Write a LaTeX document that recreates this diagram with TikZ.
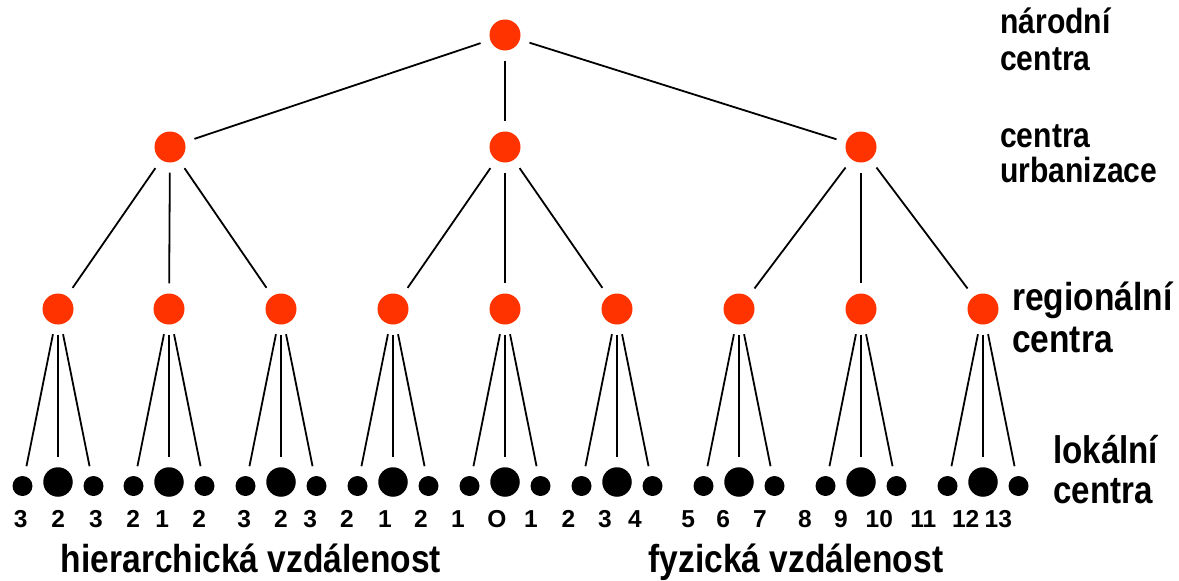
\documentclass[tikz,border=0pt]{standalone}
\usepackage{fontspec}
\newfontfamily\labfont{Liberation Sans}[FakeStretch=0.86]
\newfontfamily\numfont{Liberation Sans}
\usepackage{tikz}
\usetikzlibrary{calc}
\usetikzlibrary{positioning}
\definecolor{centrered}{RGB}{255,51,0}
\tikzstyle{city} = [circle, fill=centrered, inner sep=0pt, minimum size=31pt]
\tikzstyle{small} = [circle, fill=black, inner sep=0pt, minimum size=20pt]
\tikzstyle{big} = [circle, fill=black, inner sep=0pt, minimum size=29.5pt]
\tikzstyle{link} = [draw, line width=1.8pt, shorten <=10pt, shorten >=10pt]
\tikzstyle{num} = [font=\numfont\bfseries\fontsize{24.5}{24.5}\selectfont, inner sep=0pt, anchor=base]
\tikzstyle{level} = [align=left, inner sep=0pt, anchor=base west]
\tikzstyle{axis} = [font=\labfont\bfseries\fontsize{39}{42}\selectfont, inner sep=0pt, anchor=base]

\begin{document}
\begin{tikzpicture}[x=1pt, y=-1pt]
    \useasboundingbox (0,0) rectangle (1179,581);
    % We start by placing the national and urban centres
    \node [city] (nat) at (505,35) {};
    \node [city] (urb1) at (170,147) {};
    \node [city] (urb2) at (505,147) {};
    \node [city] (urb3) at (861,147) {};
    \foreach \u in {1,2,3}
        \draw [link] (nat) -- (urb\u);

    % regional centres with their local centres
    \foreach \x/\n/\u in {58/1/1, 169/2/1, 281/3/1, 393/4/2, 505/5/2, 617/6/2, 739/7/3, 861/8/3, 983/9/3} {
        \node [city] (reg\n) at (\x,309) {};
        \draw [link] (urb\u) -- (reg\n);
        \node [small] (left\n) at ($(reg\n)+(-35.5,177)$) {};
        \node [big] (mid\n) at ($(reg\n)+(0,173)$) {};
        \node [small] (right\n) at ($(reg\n)+(35.5,177)$) {};
        \draw [link] (reg\n) -- (left\n);
        \draw [link] (reg\n) -- (mid\n);
        \draw [link] (reg\n) -- (right\n);
    }

    % distances
    \foreach \x/\t [count=\i] in {20.7/3, 58.3/2, 96/3, 133.3/2, 162.3/1, 199.3/2, 244.3/3, 281/2, 310.3/3,
        347/2, 385/1, 421/2, 458/1, 497/O, 531/1, 568.5/2, 605/3, 635/4, 688.3/5, 723.3/6, 760/7,
        805/8, 841/9, 879.3/10, 923.3/11, 965.7/12, 998.3/13}
        \node [num] (dist\i) at (\x,527) {\t};

    % level names
    \node [level, font=\labfont\bfseries\fontsize{35}{37}\selectfont] (natlab) at (1000,70) {národní\\centra};
    \node [level, font=\labfont\bfseries\fontsize{35}{35}\selectfont] (urblab) at (1000,182) {centra\\urbanizace};
    \node [level, font=\labfont\bfseries\fontsize{39}{42}\selectfont] (reglab) at (1012,352) {regionální\\centra};
    \node [level, font=\labfont\bfseries\fontsize{38.5}{40}\selectfont] (loclab) at (1053,503) {lokální\\centra};

    \node [axis] (hier) at (251,572) {hierarchická vzdálenost};
    \node [axis] (phys) at (796,572) {fyzická vzdálenost};
\end{tikzpicture}
\end{document}
